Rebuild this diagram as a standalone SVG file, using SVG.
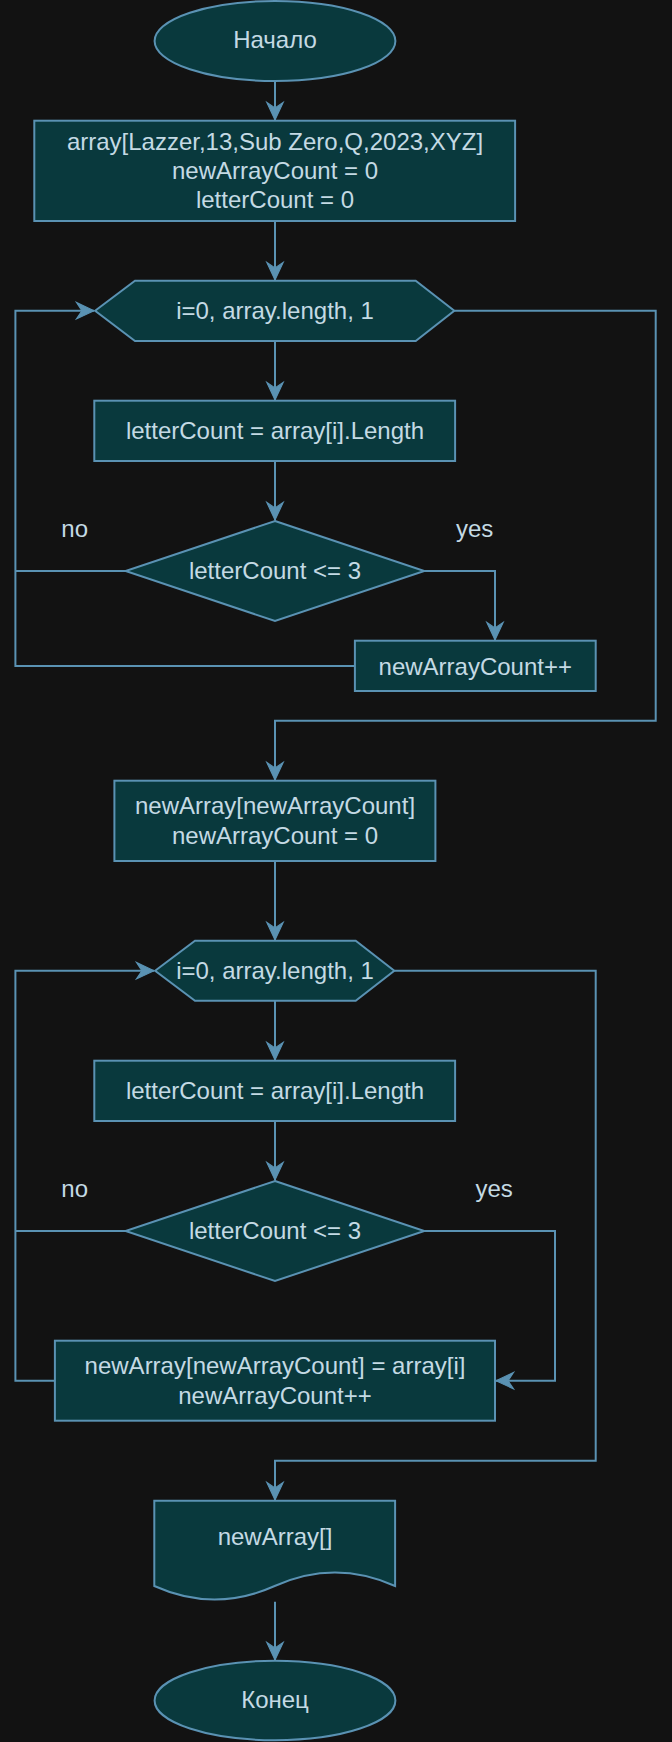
<svg xmlns="http://www.w3.org/2000/svg" width="672" height="1742" viewBox="0 0 672 1742">
<defs>
<style>
.n{fill:#09393d;stroke:#5a92b3;stroke-width:2}
.c{fill:none;stroke:#5a92b3;stroke-width:2}
.t{font-family:"Liberation Sans",Arial,sans-serif;font-size:24px;fill:#c4dae4;text-anchor:middle}
.l{font-family:"Liberation Sans",Arial,sans-serif;font-size:24px;fill:#c4dae4}
</style>
<marker id="a" markerUnits="userSpaceOnUse" markerWidth="22" markerHeight="20" viewBox="-18 -9 20 18" refX="0" refY="0" orient="auto">
<path d="M0,0 L-16,-7.5 L-11,0 L-16,7.5 Z" fill="#5a92b3" stroke="#5a92b3" stroke-width="1"/>
</marker>
</defs>
<rect width="672" height="1742" fill="#121212"/>
<g id="connectors">
<path class="c" d="M275,81 V120" marker-end="url(#a)"/>
<path class="c" d="M275,221 V280" marker-end="url(#a)"/>
<path class="c" d="M275,341 V400" marker-end="url(#a)"/>
<path class="c" d="M275,461 V520" marker-end="url(#a)"/>
<path class="c" d="M424.3,571 H495 V640" marker-end="url(#a)"/>
<path class="c" d="M125.6,571 H15.4"/>
<path class="c" d="M354.9,666 H15.4 V310.7 H94" marker-end="url(#a)"/>
<path class="c" d="M454.3,310.7 H655.7 V720.7 H275 V780" marker-end="url(#a)"/>
<path class="c" d="M275,861 V940" marker-end="url(#a)"/>
<path class="c" d="M275,1000.7 V1060" marker-end="url(#a)"/>
<path class="c" d="M275,1121 V1180" marker-end="url(#a)"/>
<path class="c" d="M424.3,1231 H555 V1380.7 H496" marker-end="url(#a)"/>
<path class="c" d="M125.6,1231 H15.4"/>
<path class="c" d="M54.9,1380.7 H15.4 V970.7 H154" marker-end="url(#a)"/>
<path class="c" d="M394.3,970.7 H595.7 V1460.7 H275 V1500" marker-end="url(#a)"/>
<path class="c" d="M275,1601.7 V1660" marker-end="url(#a)"/>
</g>
<g id="labels">
<text class="l" x="61.3" y="537.3">no</text>
<text class="l" x="456" y="537.3">yes</text>
<text class="l" x="61.3" y="1197.3">no</text>
<text class="l" x="475.5" y="1197.3">yes</text>
</g>
<g id="start">
<ellipse class="n" cx="275" cy="41" rx="120.4" ry="40"/>
<text class="t" x="275" y="48">Начало</text>
</g>
<g id="init">
<rect class="n" x="34.3" y="120.7" width="480.8" height="100.3"/>
<text class="t" x="275" y="149.5">array[Lazzer,13,Sub Zero,Q,2023,XYZ]</text>
<text class="t" x="275" y="178.5">newArrayCount = 0</text>
<text class="t" x="275" y="207.5">letterCount = 0</text>
</g>
<g id="loop1">
<polygon class="n" points="95.1,310.7 135,280.7 415.7,280.7 454.3,310.7 415.7,341 135,341"/>
<text class="t" x="275" y="319">i=0, array.length, 1</text>
</g>
<g id="len1">
<rect class="n" x="94.3" y="400.7" width="360.8" height="60.3"/>
<text class="t" x="275" y="439">letterCount = array[i].Length</text>
</g>
<g id="cond1">
<polygon class="n" points="275,521 424.3,571 275,621 125.6,571"/>
<text class="t" x="275" y="579">letterCount &lt;= 3</text>
</g>
<g id="inc1">
<rect class="n" x="354.9" y="640.7" width="240.8" height="50.3"/>
<text class="t" x="475.3" y="674.5">newArrayCount++</text>
</g>
<g id="alloc">
<rect class="n" x="114.4" y="780.7" width="321" height="80.3"/>
<text class="t" x="275" y="814">newArray[newArrayCount]</text>
<text class="t" x="275" y="843.5">newArrayCount = 0</text>
</g>
<g id="loop2">
<polygon class="n" points="155.1,970.7 195,940.7 355.7,940.7 394.3,970.7 355.7,1000.7 195,1000.7"/>
<text class="t" x="275" y="979">i=0, array.length, 1</text>
</g>
<g id="len2">
<rect class="n" x="94.3" y="1060.7" width="360.8" height="60.3"/>
<text class="t" x="275" y="1099">letterCount = array[i].Length</text>
</g>
<g id="cond2">
<polygon class="n" points="275,1181 424.3,1231 275,1281 125.6,1231"/>
<text class="t" x="275" y="1239">letterCount &lt;= 3</text>
</g>
<g id="assign">
<rect class="n" x="54.9" y="1340.7" width="440.1" height="80"/>
<text class="t" x="275" y="1374">newArray[newArrayCount] = array[i]</text>
<text class="t" x="275" y="1403.5">newArrayCount++</text>
</g>
<g id="output">
<path class="n" d="M154.3,1500.7 H395.1 V1586 Q334.9,1559 274.7,1586 Q214.5,1613 154.3,1586 Z"/>
<text class="t" x="275" y="1545">newArray[]</text>
</g>
<g id="end">
<ellipse class="n" cx="275" cy="1700.5" rx="120.4" ry="39.7"/>
<text class="t" x="275" y="1708">Конец</text>
</g>
</svg>
